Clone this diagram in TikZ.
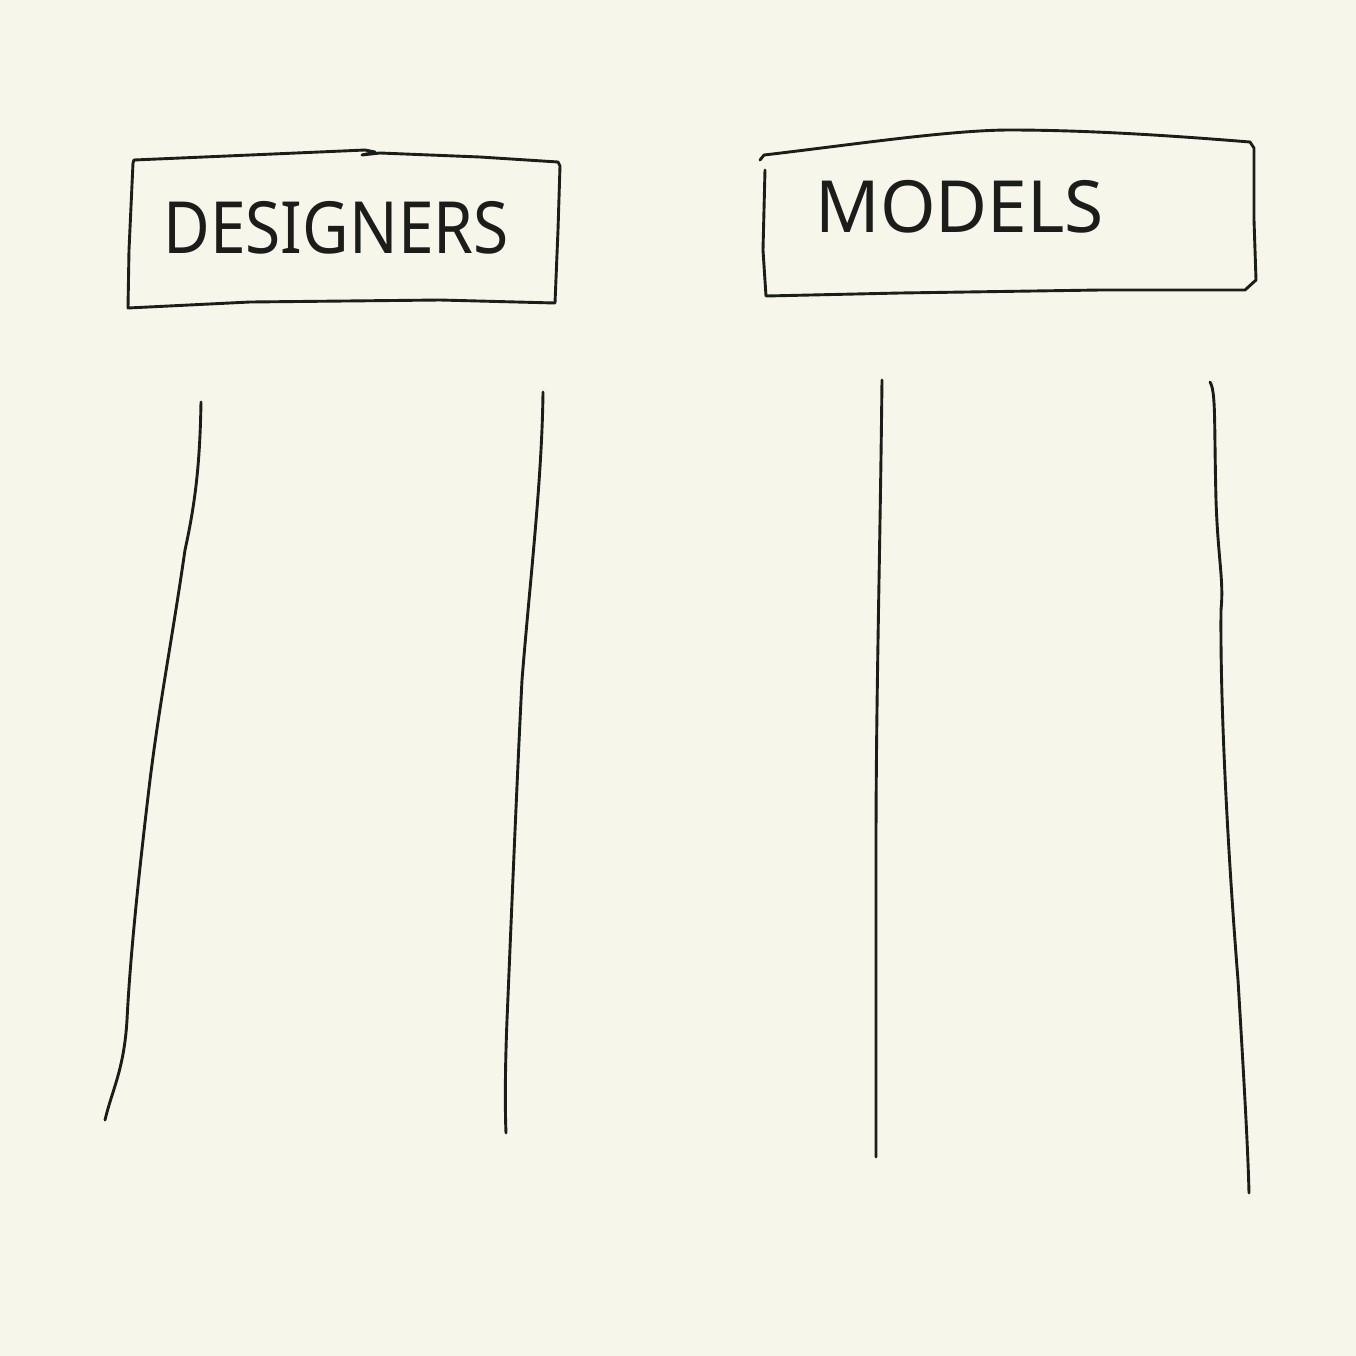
\documentclass[tikz,border=0pt]{standalone}
\usepackage{fontspec}
\setmainfont{Noto Sans}
\definecolor{paper}{HTML}{F6F7EA}
\definecolor{ink}{HTML}{1C1C1A}
\begin{document}
\begin{tikzpicture}[x=0.5pt,y=-0.5pt,
  pen/.style={draw=ink,line width=1.45pt,line cap=round,line join=round},
  label/.style={text=ink,font=\fontsize{36}{40}\selectfont,inner sep=0pt,anchor=west}]
\fill[paper] (0,0) rectangle (1356,1356);
\useasboundingbox (0,0) rectangle (1356,1356);
% box 1
\draw[pen] (133,163) -- (134,160) -- (250,155) -- (365,150) -- (375,152) -- (362,155) -- (380,153) -- (480,157) -- (558,162) -- (560,166) -- (558,230) -- (555,303) -- (440,300) -- (250,302) -- (128,308) -- (129,250) -- (133,163);
\node[label,xscale=0.89] (designers) at (163,228) {DESIGNERS};
% box 2
\draw[pen] (760,160) -- (764,155) .. controls (850,145) and (950,130) .. (1010,130)
  .. controls (1100,130) and (1200,138) .. (1250,142) -- (1254,148) -- (1254,220) -- (1256,280) -- (1245,290) -- (1100,290) -- (900,293) -- (766,296) -- (763,250) -- (765,170);
\node[label,xscale=0.99] (models) at (815,207) {MODELS};
% lines
\coordinate (a1) at (201,402); \coordinate (a2) at (105,1120);
\draw[pen] (a1) .. controls (200,460) and (196,500) .. (185,550)
  .. controls (172,640) and (160,700) .. (150,780)
  .. controls (138,880) and (130,960) .. (127,1020)
  .. controls (124,1070) and (112,1090) .. (a2);
\coordinate (b1) at (543,392); \coordinate (b2) at (506,1133);
\draw[pen] (b1) .. controls (542,480) and (530,580) .. (522,680)
  .. controls (516,800) and (510,950) .. (507,1020)
  .. controls (505,1070) and (505,1110) .. (b2);
\coordinate (c1) at (882,380); \coordinate (c2) at (876,1157);
\draw[pen] (c1) .. controls (880,560) and (876,700) .. (876,850)
  .. controls (876,1000) and (876,1100) .. (c2);
\coordinate (d1) at (1210,382); \coordinate (d2) at (1249,1193);
\draw[pen] (d1) .. controls (1216,392) and (1214,420) .. (1216,500)
  .. controls (1218,560) and (1224,580) .. (1221,610)
  .. controls (1220,720) and (1230,880) .. (1238,980)
  .. controls (1244,1080) and (1248,1150) .. (d2);
\end{tikzpicture}
\end{document}
